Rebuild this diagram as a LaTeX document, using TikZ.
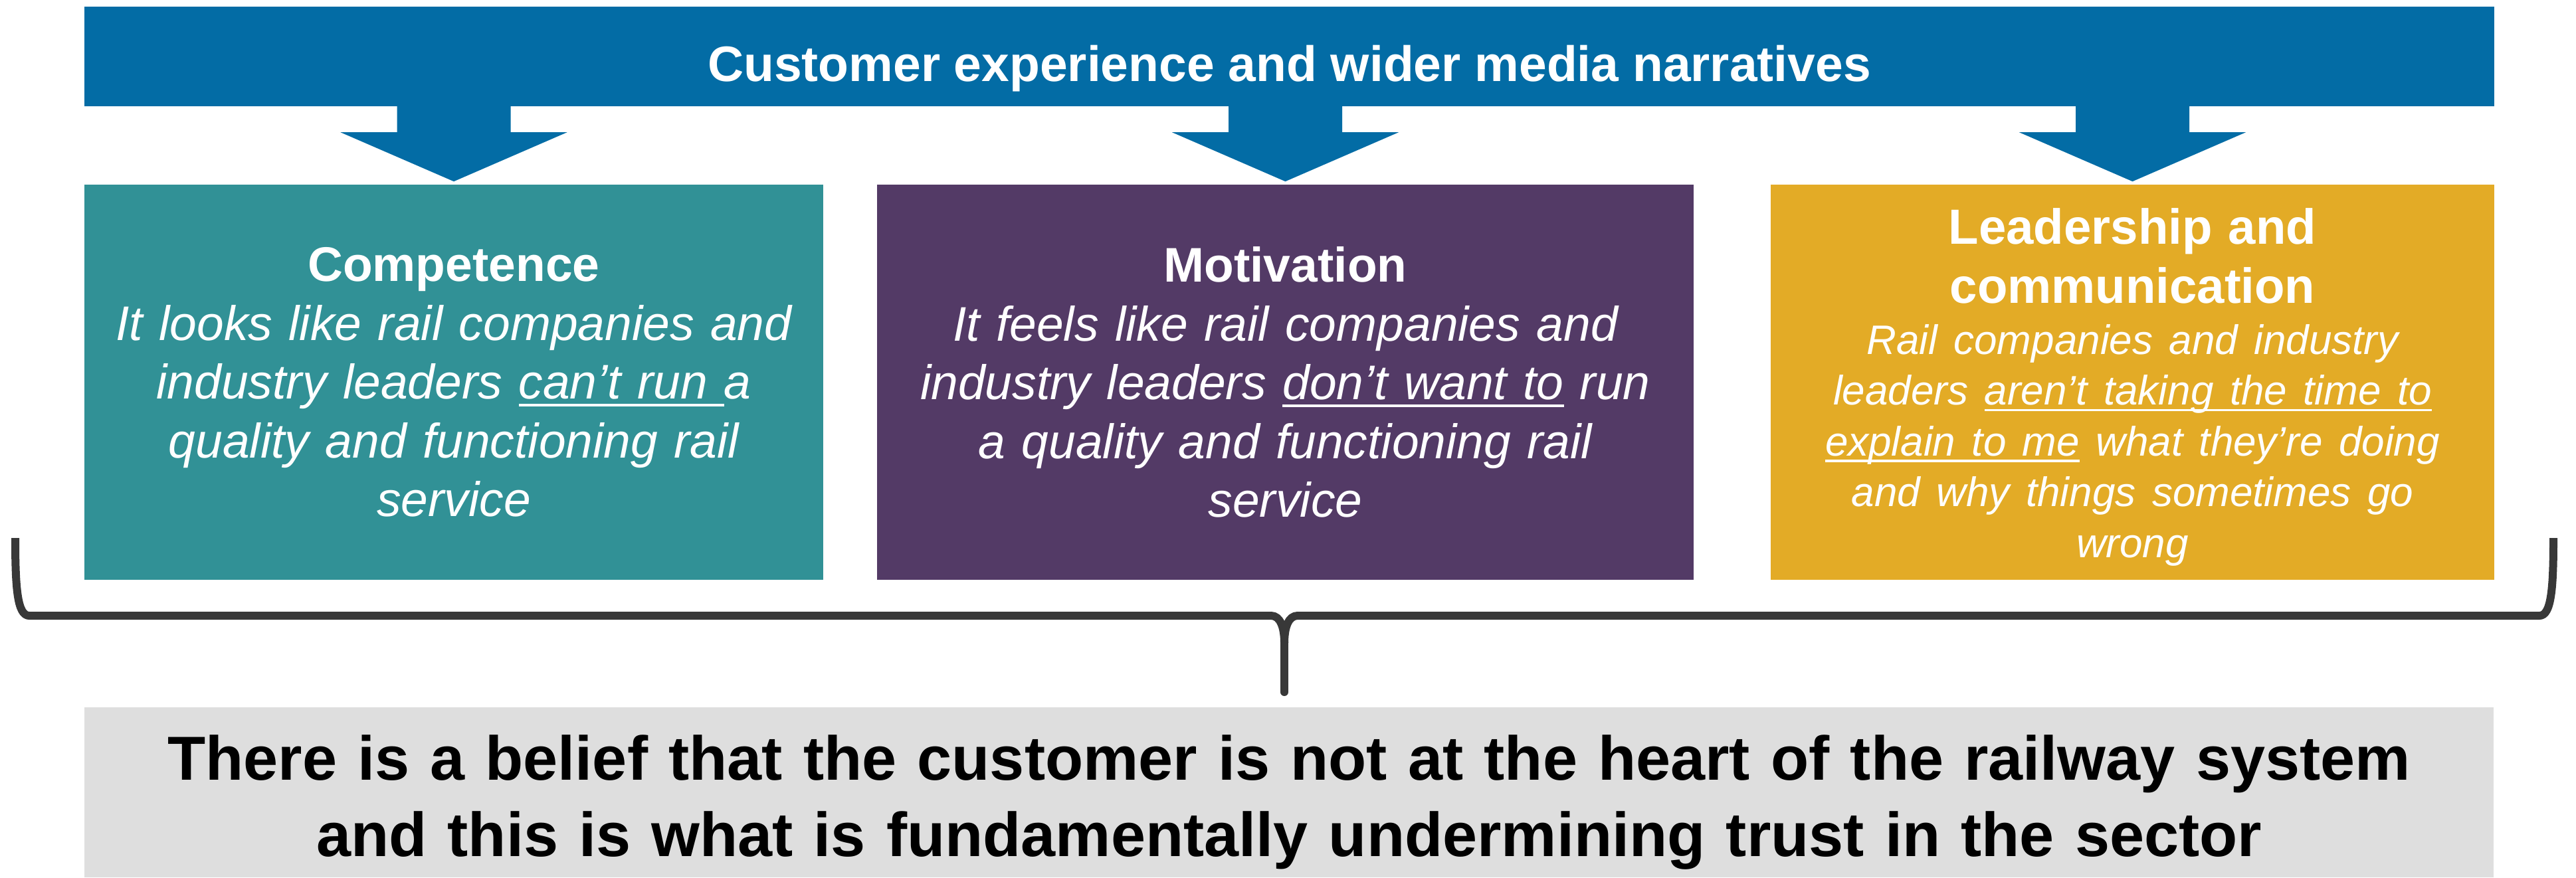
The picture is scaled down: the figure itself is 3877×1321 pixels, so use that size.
\documentclass[tikz,border=0pt]{standalone}
\usepackage{fontspec}
\setmainfont{Liberation Sans}
\usetikzlibrary{calc}
\definecolor{bannerblue}{RGB}{3,108,165}
\definecolor{tealbox}{RGB}{49,145,150}
\definecolor{purplebox}{RGB}{83,58,102}
\definecolor{yellowbox}{RGB}{227,171,38}
\definecolor{graybox}{RGB}{222,222,222}
\definecolor{bracegray}{RGB}{56,56,56}
\newcommand\myul[1]{\setbox0\hbox{#1}\leavevmode\rlap{\rule[-0.15em]{\wd0}{0.05em}}\box0\relax}
\tikzset{
  x=0.25pt, y=-0.25pt,
  panel/.style={rectangle, inner sep=0pt, minimum height=148.75pt, draw=none},
  paneltext/.style={inner sep=0pt, align=center, text=white,
    font=\fontsize{18.3pt}{22.125pt}\selectfont},
  bannerarrow/.style={fill=bannerblue, draw=none},
  bracestroke/.style={draw=bracegray, line width=3pt, line join=round}
}
\begin{document}
\begin{tikzpicture}
\useasboundingbox (0,0) rectangle (3877,1321);
% banner
\node[rectangle, inner sep=0pt, fill=bannerblue, minimum width=906.75pt, minimum height=37.5pt,
  text=white, font=\bfseries\fontsize{18.75pt}{22.125pt}\selectfont,
  text height=18.5pt, text depth=0pt] (banner) at (1940.5,85) {Customer experience and wider media narratives};
% panels
\node[panel, fill=tealbox, minimum width=278pt] (teal) at (683,575.5) {};
\node[panel, fill=purplebox, minimum width=307.25pt] (purple) at (1934.5,575.5) {};
\node[panel, fill=yellowbox, minimum width=272.25pt] (yellow) at (3209.5,575.5) {};
% panel texts
\node[paneltext, text width=275pt] (tealtext) at (teal.center)
  {{\bfseries Competence}\\\itshape It looks like rail companies and\\ industry leaders \myul{can’t run }a\\ quality and functioning rail\\ service};
\node[paneltext, text width=300pt] (purpletext) at (purple.center)
  {{\bfseries Motivation}\\\itshape It feels like rail companies and\\ industry leaders \myul{don’t want to} run\\ a quality and functioning rail\\ service};
\node[paneltext, text width=268pt] (yellowtext) at ($(yellow.center)+(0,7.5)$)
  {{\bfseries\fontsize{18.6pt}{22.25pt}\selectfont Leadership and\\ communication\par}
   {\itshape\fontsize{15.5pt}{19.125pt}\selectfont Rail companies and industry\\ leaders \myul{aren’t taking the time to}\\ \myul{explain to me} what they’re doing\\ and why things sometimes go\\ wrong\par}};
% arrows from banner to panels
\foreach \b in {teal,purple,yellow}{
  \coordinate (tip-\b) at ($(\b.north)+(0,-4)$);
  \path[bannerarrow] (tip-\b) -- ($(tip-\b)+(-170.5,-74)$) -- ($(tip-\b)+(-85.5,-74)$)
    -- ($(banner.south -| tip-\b)+(-85.5,-2)$) -- ($(banner.south -| tip-\b)+(85.5,-2)$)
    -- ($(tip-\b)+(85.5,-74)$) -- ($(tip-\b)+(170.5,-74)$) -- cycle;
}
% bottom statement
\node[rectangle, inner sep=0pt, fill=graybox, minimum width=906.5pt, minimum height=64pt] (belief) at (1940,1193) {};
\node[inner sep=0pt, align=center, text width=900pt, font=\bfseries\fontsize{23.4pt}{28.75pt}\selectfont]
  (belieftext) at ($(belief.center)+(0,15)$)
  {There is a belief that the customer is not at the heart of the railway system\\ and this is what is fundamentally undermining trust in the sector};
% brace
\coordinate (braceL) at (23,810);
\coordinate (braceR) at (3843,810);
\coordinate (braceMid) at (1933,968);
\coordinate (braceTip) at (1933,1042);
\draw[bracestroke] (braceL) .. controls (23,885) and (26,927) .. (44,927) -- (1913,927)
  .. controls (1927,927) and (1933,945) .. (braceMid);
\draw[bracestroke] (braceR) .. controls (3843,885) and (3840,927) .. (3822,927) -- (1953,927)
  .. controls (1939,927) and (1933,945) .. (braceMid);
\draw[bracestroke, line cap=round] ($(braceMid)+(0,-8)$) -- (braceTip);
\end{tikzpicture}
\end{document}
